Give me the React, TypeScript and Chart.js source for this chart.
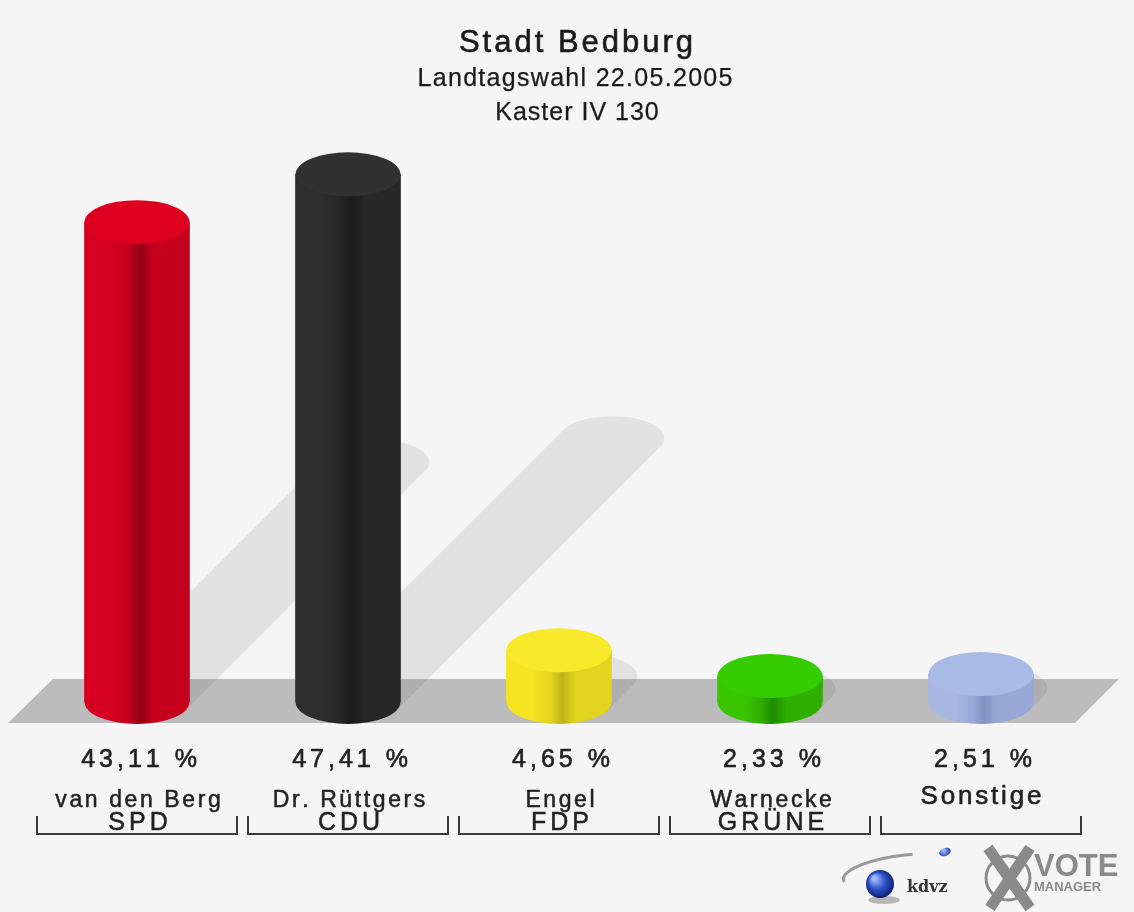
import React, { useEffect, useRef } from 'react';
import { Chart, registerables } from 'chart.js';

Chart.register(...registerables);

// ---- data ----
const parties = ['SPD', 'CDU', 'FDP', 'GRÜNE', 'Sonstige'];
const candidates = ['van den Berg', 'Dr. Rüttgers', 'Engel', 'Warnecke', ''];
const shares = [43.11, 47.41, 4.65, 2.33, 2.51];
const titleText = 'Stadt Bedburg';
const subtitleLines = ['Landtagswahl 22.05.2005', 'Kaster IV 130'];

// ---- styles ----
const sideLight = ['#d60021', '#2e2e2e', '#f4e421', '#39c500', '#a8b8e2'];
const sideMid = ['#c5001d', '#272727', '#e3d41f', '#30ae00', '#98a8d6'];
const sideDark = ['#930016', '#1b1b1b', '#c0b218', '#1f8a00', '#8191c2'];
const topColors = ['#dd001f', '#313131', '#f8ea2b', '#35cc00', '#a9bae6'];

const W = 1134;
const H = 912;
const BAR_W = 105;
const RY = 22;
const FONT = '"Liberation Sans", Arial, Helvetica, sans-serif';

function sideGradient(ctx: CanvasRenderingContext2D, x0: number, x1: number, i: number) {
  const g = ctx.createLinearGradient(x0, 0, x1, 0);
  g.addColorStop(0, sideLight[i]);
  g.addColorStop(0.25, sideLight[i]);
  g.addColorStop(0.42, sideMid[i]);
  g.addColorStop(0.53, sideDark[i]);
  g.addColorStop(0.66, sideMid[i]);
  g.addColorStop(1, sideMid[i]);
  return g;
}

function spacedText(
  ctx: CanvasRenderingContext2D,
  text: string,
  cx: number,
  baseline: number,
  font: string,
  spacing: number,
  color: string,
  weight = 0.5
) {
  ctx.save();
  ctx.font = font;
  ctx.fillStyle = color;
  ctx.strokeStyle = color;
  ctx.lineWidth = weight;
  ctx.lineJoin = 'round';
  ctx.textAlign = 'left';
  ctx.textBaseline = 'alphabetic';
  const chars = Array.from(text);
  const widths = chars.map((c) => ctx.measureText(c).width);
  const total = widths.reduce((a, b) => a + b, 0) + spacing * (chars.length - 1);
  let x = cx - total / 2;
  chars.forEach((c, k) => {
    ctx.fillText(c, x, baseline);
    if (weight > 0) ctx.strokeText(c, x, baseline);
    x += widths[k] + spacing;
  });
  ctx.restore();
}

const decorPlugin = {
  id: 'decor',
  beforeDraw(chart: any) {
    const ctx: CanvasRenderingContext2D = chart.ctx;
    ctx.save();
    ctx.fillStyle = '#f5f5f5';
    ctx.fillRect(0, 0, chart.width, chart.height);
    ctx.restore();
  },
  beforeDatasetsDraw(chart: any) {
    const ctx: CanvasRenderingContext2D = chart.ctx;
    const b = chart.scales.y.getPixelForValue(0);
    // floor band
    ctx.save();
    ctx.fillStyle = '#bcbcbc';
    ctx.beginPath();
    ctx.moveTo(53, b - 23);
    ctx.lineTo(1119, b - 23);
    ctx.lineTo(1075, b + 21);
    ctx.lineTo(8, b + 21);
    ctx.closePath();
    ctx.fill();
    // shadows
    const meta = chart.getDatasetMeta(0);
    const rx = BAR_W / 2;
    const t0 = Math.atan2(RY, rx);
    const tx = rx * Math.cos(t0);
    const ty = RY * Math.sin(t0);
    ctx.fillStyle = 'rgba(0,0,0,0.075)';
    meta.data.forEach((el: any) => {
      const h = el.base - el.y;
      const d = 0.5 * h;
      const cx = el.x;
      ctx.beginPath();
      ctx.moveTo(cx - tx, b - ty);
      ctx.lineTo(cx + d - tx, b - d - ty);
      ctx.ellipse(cx + d, b - d, rx, RY, 0, t0 + Math.PI, t0 + 2 * Math.PI, false);
      ctx.lineTo(cx + tx, b + ty);
      ctx.ellipse(cx, b, rx, RY, 0, t0, t0 + Math.PI, false);
      ctx.closePath();
      ctx.fill();
    });
    ctx.restore();
  },
  afterDatasetsDraw(chart: any) {
    const ctx: CanvasRenderingContext2D = chart.ctx;
    const meta = chart.getDatasetMeta(0);
    ctx.save();
    meta.data.forEach((el: any, i: number) => {
      const rx = el.width / 2;
      // bottom half ellipse
      ctx.fillStyle = sideGradient(ctx, el.x - rx, el.x + rx, i);
      ctx.beginPath();
      ctx.ellipse(el.x, el.base, rx, RY, 0, 0, Math.PI, false);
      ctx.closePath();
      ctx.fill();
      // top face
      ctx.fillStyle = topColors[i];
      ctx.beginPath();
      ctx.ellipse(el.x, el.y, rx, RY, 0, 0, 2 * Math.PI);
      ctx.fill();
    });
    ctx.restore();
  },
  afterDraw(chart: any) {
    const ctx: CanvasRenderingContext2D = chart.ctx;
    const xs = chart.scales.x;
    // titles
    spacedText(ctx, titleText, 576, 52, `31px ${FONT}`, 3.0, '#1a1a1a', 0.6);
    spacedText(ctx, subtitleLines[0], 575, 86, `25px ${FONT}`, 1.3, '#1a1a1a', 0.25);
    spacedText(ctx, subtitleLines[1], 577, 120, `25px ${FONT}`, 1.0, '#1a1a1a', 0.25);

    parties.forEach((p, i) => {
      const cx = xs.getPixelForValue(i);
      const pct = shares[i].toFixed(2).replace('.', ',') + ' %';
      spacedText(ctx, pct, cx + 2, 767, `25px ${FONT}`, 4.0, '#222', 0.6);
      if (candidates[i]) {
        spacedText(ctx, candidates[i], cx + 1, 807, `23px ${FONT}`, 2.6, '#222', 0.5);
        spacedText(ctx, p, cx + 1, 830, `25px ${FONT}`, 4.0, '#222', 0.5);
      } else {
        spacedText(ctx, p, cx, 804, `26px ${FONT}`, 2.8, '#222', 0.6);
      }
      // bracket
      ctx.save();
      ctx.strokeStyle = '#3a3a3a';
      ctx.lineWidth = 2;
      ctx.beginPath();
      ctx.moveTo(cx - 100, 816);
      ctx.lineTo(cx - 100, 834);
      ctx.lineTo(cx + 100, 834);
      ctx.lineTo(cx + 100, 816);
      ctx.stroke();
      ctx.restore();
    });

    // logo (kdvz / VOTE MANAGER)
    ctx.save();
    ctx.strokeStyle = '#9a9a9a';
    ctx.lineWidth = 3;
    ctx.beginPath();
    ctx.ellipse(905, 872, 62, 17, -0.12, Math.PI * 0.95, Math.PI * 1.55, false);
    ctx.stroke();
    const g1 = ctx.createRadialGradient(874, 878, 2, 880, 884, 15);
    g1.addColorStop(0, '#9fb8ff');
    g1.addColorStop(0.5, '#2b52c8');
    g1.addColorStop(1, '#0a1f70');
    ctx.fillStyle = g1;
    ctx.beginPath();
    ctx.arc(880, 884, 14, 0, Math.PI * 2);
    ctx.fill();
    const g2 = ctx.createRadialGradient(943, 850, 1, 945, 852, 6);
    g2.addColorStop(0, '#9fb8ff');
    g2.addColorStop(1, '#1a3aa8');
    ctx.fillStyle = g2;
    ctx.beginPath();
    ctx.ellipse(945, 852, 6, 4, -0.4, 0, Math.PI * 2);
    ctx.fill();
    ctx.fillStyle = 'rgba(0,0,0,0.25)';
    ctx.beginPath();
    ctx.ellipse(884, 900, 16, 4, 0, 0, Math.PI * 2);
    ctx.fill();
    ctx.fillStyle = '#333';
    ctx.font = `bold 16px "DejaVu Serif", serif`;
    ctx.textAlign = 'left';
    ctx.textBaseline = 'alphabetic';
    ctx.fillText('kdvz', 907, 892);
    // X mark
    ctx.strokeStyle = '#8a8a8a';
    ctx.lineWidth = 3;
    ctx.beginPath();
    ctx.arc(1008, 878, 22, 0, Math.PI * 2);
    ctx.stroke();
    ctx.lineWidth = 11;
    ctx.lineCap = 'butt';
    ctx.beginPath();
    ctx.moveTo(988, 848);
    ctx.lineTo(1030, 908);
    ctx.moveTo(1030, 848);
    ctx.lineTo(990, 908);
    ctx.stroke();
    ctx.fillStyle = '#8a8a8a';
    ctx.font = `bold 31px ${FONT}`;
    ctx.fillText('VOTE', 1034, 876);
    ctx.font = `bold 13px ${FONT}`;
    ctx.fillText('MANAGER', 1034, 891);
    ctx.restore();
  },
};

export default function App() {
  const ref = useRef<HTMLCanvasElement>(null);
  useEffect(() => {
    if (!ref.current) return;
    const chart = new Chart(ref.current, {
      type: 'bar',
      data: {
        labels: parties,
        datasets: [
          {
            data: shares,
            borderWidth: 0,
            barThickness: BAR_W,
            backgroundColor: (c: any) => {
              const i = c.dataIndex ?? 0;
              const xs = c.chart.scales?.x;
              if (!xs) return sideLight[i];
              const cx = xs.getPixelForValue(i);
              if (!Number.isFinite(cx)) return sideLight[i];
              return sideGradient(c.chart.ctx, cx - BAR_W / 2, cx + BAR_W / 2, i);
            },
          },
        ],
      },
      options: {
        animation: false,
        responsive: false,
        devicePixelRatio: 1,
        layout: { padding: { left: 31.5, right: 47.5, top: 145.5, bottom: 210 } },
        plugins: { legend: { display: false }, tooltip: { enabled: false }, title: { display: false } },
        scales: {
          x: { display: false, offset: true, grid: { display: false } },
          y: { display: false, min: 0, max: 50, grid: { display: false } },
        },
      },
      plugins: [decorPlugin],
    });
    return () => chart.destroy();
  }, []);
  return (
    <div style={{ position: 'absolute', left: 0, top: 0, width: W, height: H }}>
      <canvas ref={ref} width={W} height={H} style={{ display: 'block', width: W, height: H }} />
    </div>
  );
}
